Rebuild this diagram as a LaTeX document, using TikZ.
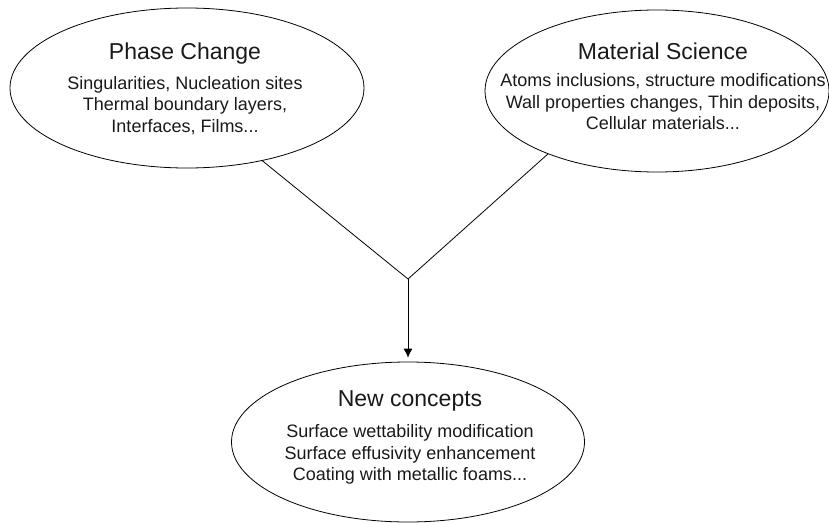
\documentclass[tikz,border=0pt]{standalone}
\usepackage{fontspec}
\setmainfont{Liberation Sans}
\usetikzlibrary{shapes.geometric, arrows.meta, positioning}
\newcommand{\bubbletitle}[1]{{\fontsize{23}{26}\selectfont #1}}

\begin{document}
\begin{tikzpicture}[
    x=1pt, y=-1pt,
    bubble/.style={ellipse, draw=black, line width=0.8pt, inner sep=0pt},
    blurb/.style={inner sep=0pt, align=center, text=black!90, font=\fontsize{18}{21.5}\selectfont},
    link/.style={line width=0.8pt, black},
    arrow/.style={-{Latex[length=9pt, width=9pt]}, line width=0.8pt, black}
]
\useasboundingbox (0,0) rectangle (829,522);

% Source fields
\node[bubble, minimum width=354pt, minimum height=160pt] (phase) at (187,88) {};
\node[blurb] (phase_txt) at (185,88.5) {\bubbletitle{Phase Change}\\[8.5pt]Singularities, Nucleation sites\\Thermal boundary layers,\\Interfaces, Films...};

\node[bubble, minimum width=344pt, minimum height=162pt] (material) at (657,91) {};
\node[blurb] (material_txt) at (663,86.5) {\bubbletitle{Material Science}\\[6pt]Atoms inclusions, structure modifications\\Wall properties changes, Thin deposits,\\Cellular materials...};

% Result
\node[bubble, minimum width=353pt, minimum height=160pt] (concepts) at (408,442) {};
\node[blurb] (concepts_txt) at (410,437.5) {\bubbletitle{New concepts}\\[10pt]Surface wettability modification\\Surface effusivity enhancement\\Coating with metallic foams...};

% Merge point
\coordinate (join) at (408,279);

% Edges
\draw[link] (phase.-44) -- (join);
\draw[link] (material.-150) -- (join);
\draw[arrow, shorten >=4pt] (join) -- (concepts.north);
\end{tikzpicture}
\end{document}
